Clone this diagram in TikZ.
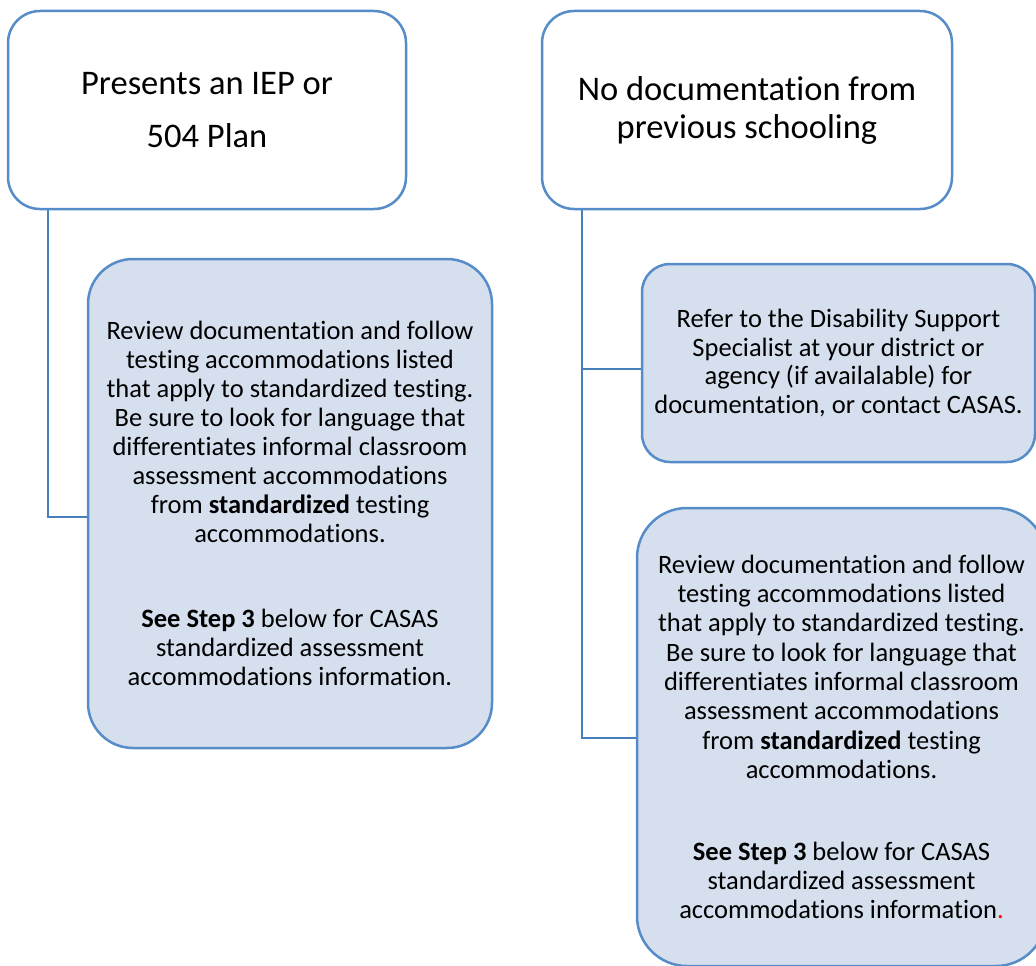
\documentclass[tikz,border=0pt]{standalone}
\usepackage{fontspec}
\setmainfont[RawFeature={-liga;-calt;-dlig;-clig}]{Carlito}
\definecolor{boxborder}{RGB}{86,140,200}
\definecolor{linkcol}{RGB}{74,126,187}
\definecolor{boxfill}{RGB}{213,223,238}
\tikzset{
  whitebox/.style={draw=boxborder, line width=2.5pt, fill=white, rounded corners=32pt, inner sep=0pt, align=center},
  bluebox/.style={draw=boxborder, line width=2.5pt, fill=boxfill, inner sep=0pt, align=center},
  link/.style={draw=linkcol, line width=2.3pt}
}
\begin{document}
\begin{tikzpicture}[x=1pt,y=-1pt]
\useasboundingbox (0,0) rectangle (1036,966);
\clip (0,0) rectangle (1036,966);
\node[whitebox, minimum width=398pt, minimum height=198pt,
      font=\fontsize{34.5}{53}\selectfont] (A) at (207,110)
  {Presents an IEP or\\504 Plan};
\node[whitebox, minimum width=410pt, minimum height=198pt,
      font=\fontsize{34.5}{38}\selectfont] (B) at (747,110)
  {No documentation from\\previous schooling};
\node[bluebox, rounded corners=45pt, minimum width=404pt, minimum height=489pt,
      font=\fontsize{26.5}{29}\selectfont] (C) at (290,503.5)
  {Review documentation and follow\\testing accommodations listed\\that apply to standardized testing.\\Be sure to look for language that\\differentiates informal classroom\\assessment accommodations\\from \textbf{standardized} testing\\accommodations.\\[56pt]\textbf{See Step 3} below for CASAS\\standardized assessment\\accommodations information.};
\node[bluebox, rounded corners=28pt, minimum width=393pt, minimum height=198pt,
      font=\fontsize{26.5}{28.5}\selectfont] (D) at (838.5,363)
  {Refer to the Disability Support\\Specialist at your district or\\agency (if availalable) for\\documentation, or contact CASAS.};
\node[bluebox, rounded corners=50pt, minimum width=409pt, minimum height=458pt,
      font=\fontsize{26.5}{29.3}\selectfont] (E) at (841.5,737)
  {Review documentation and follow\\testing accommodations listed\\that apply to standardized testing.\\Be sure to look for language that\\differentiates informal classroom\\assessment accommodations\\from \textbf{standardized} testing\\accommodations.\\[52.7pt]\textbf{See Step 3} below for CASAS\\standardized assessment\\accommodations information\textcolor{red}{.}};
\draw[link] ([xshift=41pt]A.south west) |- ([yshift=-13.5pt]C.west);
\draw[link] ([xshift=41pt]B.south west) |- ([yshift=-6pt]D.west);
\draw[link] ([xshift=41pt]B.south west) |- ([yshift=-1pt]E.west);
\end{tikzpicture}
\end{document}
